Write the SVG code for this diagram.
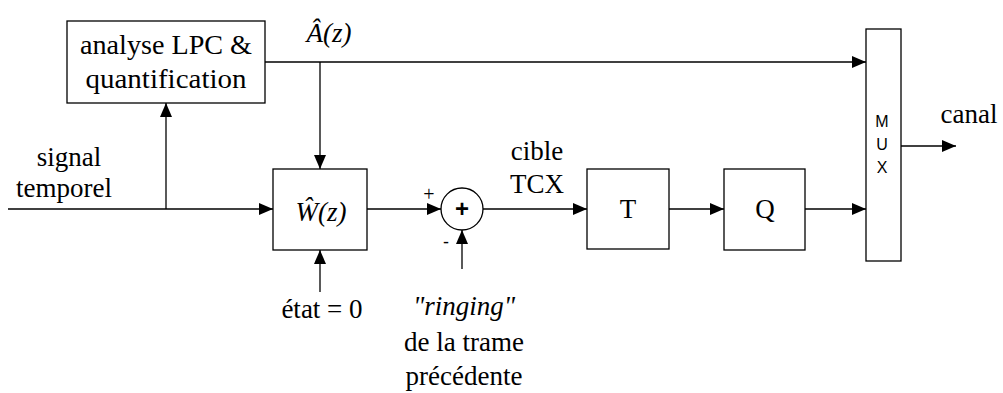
<svg xmlns="http://www.w3.org/2000/svg" width="1003" height="393" viewBox="0 0 1003 393">
<style>
.box{fill:#fff;stroke:#000;stroke-width:1.3}
.ln{fill:none;stroke:#000;stroke-width:1.3}
.t{font-size:27px;fill:#000;text-anchor:middle}
.i{font-style:italic}
.s{fill:#000;text-anchor:middle}
</style>
<defs>
<marker id="ah" markerUnits="userSpaceOnUse" markerWidth="14" markerHeight="12" refX="14" refY="6" orient="auto">
<path d="M0,0 L14,6 L0,12 Z" fill="#000"/>
</marker>
</defs>
<g id="connectors">
<line class="ln" x1="8" y1="209" x2="273" y2="209" marker-end="url(#ah)"/>
<line class="ln" x1="166" y1="209" x2="166" y2="103" marker-end="url(#ah)"/>
<line class="ln" x1="265" y1="62" x2="866" y2="62" marker-end="url(#ah)"/>
<line class="ln" x1="320" y1="62" x2="320" y2="169" marker-end="url(#ah)"/>
<line class="ln" x1="367" y1="209" x2="441" y2="209" marker-end="url(#ah)"/>
<line class="ln" x1="320" y1="292" x2="320" y2="250" marker-end="url(#ah)"/>
<line class="ln" x1="462" y1="269" x2="462" y2="230" marker-end="url(#ah)"/>
<line class="ln" x1="483" y1="209" x2="587" y2="209" marker-end="url(#ah)"/>
<line class="ln" x1="669" y1="209" x2="724" y2="209" marker-end="url(#ah)"/>
<line class="ln" x1="805" y1="209" x2="866" y2="209" marker-end="url(#ah)"/>
<line class="ln" x1="901" y1="146" x2="956" y2="146" marker-end="url(#ah)"/>
</g>
<g font-family="'Liberation Serif', 'Times New Roman', Times, serif">
<g id="lpc">
<rect class="box" x="67" y="21" width="198" height="82"/>
<text class="t" x="166" y="54" textLength="172" lengthAdjust="spacingAndGlyphs">analyse LPC &amp;</text>
<text class="t" x="166" y="88" textLength="161" lengthAdjust="spacingAndGlyphs">quantification</text>
</g>
<g id="label-a">
<text class="t i" x="329" y="42">Â(z)</text>
</g>
<g id="label-signal">
<text class="t" x="69" y="166">signal</text>
<text class="t" x="64" y="197">temporel</text>
</g>
<g id="w">
<rect class="box" x="273" y="169" width="94" height="81"/>
<text class="t i" x="321" y="221">Ŵ(z)</text>
</g>
<g id="label-etat">
<text class="t" x="322" y="318">état = 0</text>
</g>
<g id="sum">
<circle class="box" cx="462" cy="209" r="21"/>
<text class="s" x="462" y="217" font-family="'Liberation Sans', Arial, sans-serif" style="font-size:24px;font-weight:bold">+</text>
<text class="t" x="429" y="201" style="font-size:20px">+</text>
<text class="s" x="446" y="248" font-family="'Liberation Sans', Arial, sans-serif" style="font-size:18px">-</text>
</g>
<g id="label-ringing">
<text class="t i" x="464" y="315">"ringing"</text>
<text class="t" x="464" y="351">de la trame</text>
<text class="t" x="464" y="385">précédente</text>
</g>
<g id="label-cible">
<text class="t" x="537" y="160">cible</text>
<text class="t" x="537" y="193">TCX</text>
</g>
<g id="t">
<rect class="box" x="587" y="169" width="82" height="80"/>
<text class="t" x="628" y="218">T</text>
</g>
<g id="q">
<rect class="box" x="724" y="169" width="81" height="81"/>
<text class="t" x="765" y="218">Q</text>
</g>
<g id="mux">
<rect class="box" x="866" y="29" width="35" height="232"/>
<g font-family="'Liberation Sans', Arial, sans-serif" style="font-size:16px">
<text class="s" x="882" y="127">M</text>
<text class="s" x="882" y="150">U</text>
<text class="s" x="882" y="173">X</text>
</g>
</g>
<g id="label-canal">
<text class="t" x="969" y="123">canal</text>
</g>
</g>
</svg>
